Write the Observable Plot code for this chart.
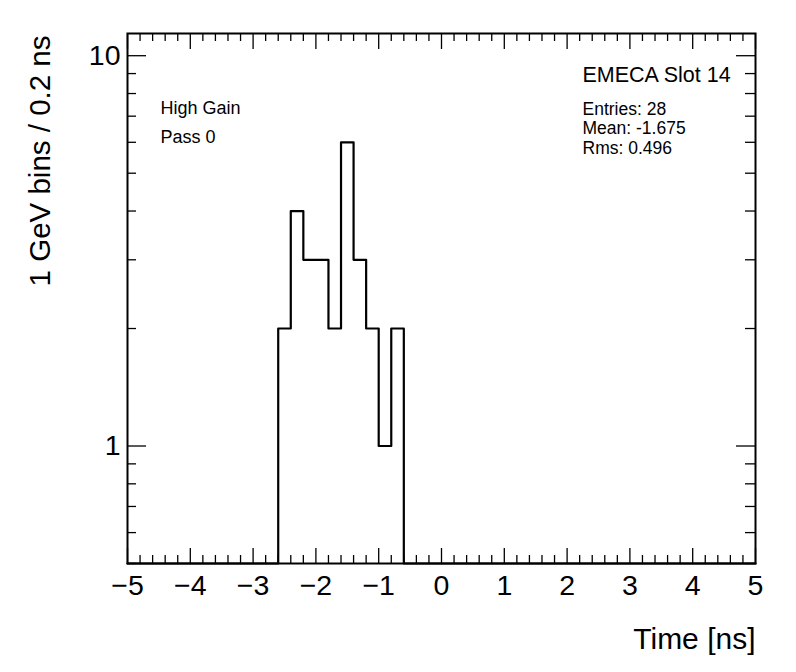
<!DOCTYPE html>
<html>
<head>
<meta charset="utf-8">
<script src="https://cdn.jsdelivr.net/npm/d3@7"></script>
<script src="https://cdn.jsdelivr.net/npm/@observablehq/plot@0.6"></script>
<style>
  html, body { margin: 0; padding: 0; background: #fff; }
  svg { font-family: "Liberation Sans", Arial, Helvetica, sans-serif; }
</style>
</head>
<body>
<div id="chart"></div>
<script>
// ---- Data ----
const binWidth = 0.2;                  // ns
const xRange = [-5, 5];
const filledBinLow = [-2.6, -2.4, -2.2, -2.0, -1.8, -1.6, -1.4, -1.2, -1.0, -0.8];
const filledCounts = [2, 4, 3, 3, 2, 6, 3, 2, 1, 2];
const yRange = [0.5, 11.4];
const xTickLabels = [-5, -4, -3, -2, -1, 0, 1, 2, 3, 4, 5];
const yTickLabels = [1, 10];
const statLines = ["Entries: 28", "Mean: -1.675", "Rms: 0.496"];
const panelTitle = "EMECA Slot 14";
const infoLines = ["High Gain", "Pass 0"];
const xTitle = "Time [ns]";
const yTitle = "1 GeV bins / 0.2 ns";

// ---- Build histogram table ----
const nBins = Math.round((xRange[1] - xRange[0]) / binWidth);
const counts = new Array(nBins).fill(0);
filledBinLow.forEach((lo, i) => {
  const k = Math.round((lo - xRange[0]) / binWidth);
  counts[k] = filledCounts[i];
});
const stepPts = counts.map((c, k) => ({x: xRange[0] + k * binWidth, y: c > 0 ? c : yRange[0]}));
stepPts.push({x: xRange[1], y: counts[nBins - 1] > 0 ? counts[nBins - 1] : yRange[0]});

// tick values
const xMajor = xTickLabels;
const xMinor = d3.range(0, nBins + 1).map(k => +(xRange[0] + k * binWidth).toFixed(2)).filter(v => !xMajor.includes(v));
const yMajor = yTickLabels;
const yMinor = [0.5, 0.6, 0.7, 0.8, 0.9, 2, 3, 4, 5, 6, 7, 8, 9];

const W = 796, H = 672;
const mL = 127, mR = 41, mT = 33, mB = 109;
const pw = W - mL - mR, ph = H - mT - mB;
const FONT = '"Liberation Sans", Arial, Helvetica, sans-serif';

// helper for single-line annotations anchored at frame's top-left
const note = (txt, dx, dy, size) =>
  Plot.text([txt], {frameAnchor: "top-left", text: d => d, textAnchor: "start", lineAnchor: "bottom", dx, dy, fontSize: size, fill: "#000"});

const chart = Plot.plot({
  width: W,
  height: H,
  marginLeft: mL,
  marginRight: mR,
  marginTop: mT,
  marginBottom: mB,
  style: {fontFamily: FONT, background: "#fff"},
  x: {domain: xRange, label: null},
  y: {type: "log", domain: yRange, label: null},
  marks: [
    // inward ticks: bottom/top
    Plot.tickX(xMinor, {x: d => d, insetTop: ph - 8, stroke: "#000", strokeWidth: 1.3}),
    Plot.tickX(xMajor, {x: d => d, insetTop: ph - 15, stroke: "#000", strokeWidth: 1.3}),
    Plot.tickX(xMinor, {x: d => d, insetBottom: ph - 8, stroke: "#000", strokeWidth: 1.3}),
    Plot.tickX(xMajor, {x: d => d, insetBottom: ph - 16, stroke: "#000", strokeWidth: 1.3}),
    // inward ticks: left/right
    Plot.tickY(yMinor, {y: d => d, insetRight: pw - 9, stroke: "#000", strokeWidth: 1.3}),
    Plot.tickY(yMajor, {y: d => d, insetRight: pw - 19, stroke: "#000", strokeWidth: 1.3}),
    Plot.tickY(yMinor, {y: d => d, insetLeft: pw - 10, stroke: "#000", strokeWidth: 1.3}),
    Plot.tickY(yMajor, {y: d => d, insetLeft: pw - 19, stroke: "#000", strokeWidth: 1.3}),
    // histogram outline
    Plot.line(stepPts, {x: "x", y: "y", curve: "step-after", stroke: "#000", strokeWidth: 2.2}),
    Plot.frame({stroke: "#000", strokeWidth: 2}),
    // axes labels
    Plot.axisX({ticks: xMajor, tickSize: 0, tickPadding: 11, fontSize: 28.5, tickFormat: d3.format("d"), label: null}),
    Plot.axisY({ticks: yMajor, tickSize: 0, tickPadding: 7, fontSize: 28.5, tickFormat: d3.format("d"), label: null}),
    // axis titles
    Plot.text([xTitle], {frameAnchor: "bottom-right", text: d => d, textAnchor: "end", lineAnchor: "bottom", dy: 85, fontSize: 30, fill: "#000"}),
    Plot.text([yTitle], {frameAnchor: "top-left", text: d => d, rotate: -90, textAnchor: "end", lineAnchor: "bottom", dx: -78, dy: 2, fontSize: 29.5, fill: "#000"}),
    // annotations
    note(infoLines[0], 33, 80, 18),
    note(infoLines[1], 33, 109, 18),
    note(panelTitle, 455, 48, 21.5),
    note(statLines[0], 455, 81, 17.5),
    note(statLines[1], 455, 100.5, 17.5),
    note(statLines[2], 455, 120, 17.5)
  ]
});

document.getElementById("chart").appendChild(chart);
</script>
</body>
</html>
